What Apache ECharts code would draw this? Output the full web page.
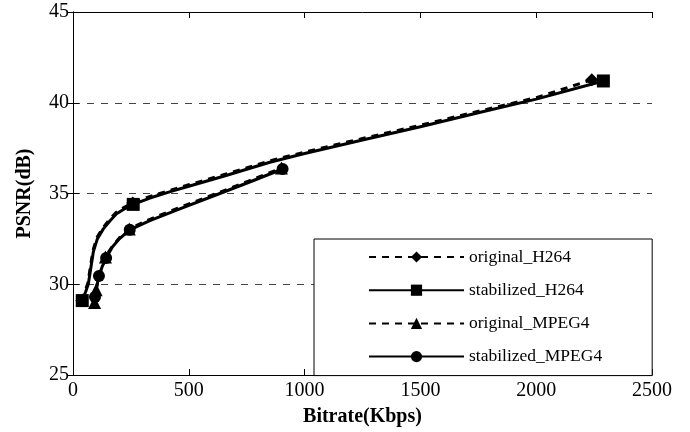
<!DOCTYPE html>
<html>
<head>
<meta charset="utf-8">
<script src="https://cdn.jsdelivr.net/npm/echarts@6/dist/echarts.min.js"></script>
<style>html,body{margin:0;padding:0;background:#fff}#c{width:690px;height:432px}</style>
</head>
<body>
<div id="c"></div>
<script>
// Curve samples: [bitrate kbps, PSNR dB]
const origH264 = [[38,29.1],[53,29.65],[64,30.05],[75,30.95],[86,31.85],[103,32.57],[130,33.12],[158,33.58],[186,33.95],[223,34.25],[258,34.48],[330,34.83],[420,35.18],[500,35.48],[650,36.03],[850,36.8],[1000,37.28],[1250,38.03],[1500,38.76],[1750,39.53],[2000,40.28],[2240,41.27]];
const origH264Marks = [0,10,21];
const stabH264 = [[40,29.1],[55,29.6],[66,30.0],[77,30.9],[88,31.8],[105,32.5],[131,33.05],[160,33.5],[188,33.88],[225,34.17],[260,34.4],[332,34.75],[420,35.1],[500,35.4],[650,35.95],[850,36.72],[1000,37.2],[1250,37.95],[1500,38.68],[1750,39.45],[2000,40.2],[2290,41.2]];
const stabH264Marks = [0,10,21];
const origMPEG4 = [[93,29.0],[100,29.7],[108,30.2],[118,30.6],[140,31.5],[170,32.1],[200,32.55],[243,33.05],[332,33.58],[450,34.18],[620,35.0],[760,35.7],[900,36.4]];
const origMPEG4Marks = [0,1,4,7,12];
const stabMPEG4 = [[95,29.3],[103,29.9],[112,30.45],[127,31.0],[143,31.45],[170,32.05],[200,32.5],[245,33.0],[332,33.5],[450,34.1],[620,34.93],[760,35.62],[905,36.35]];
const stabMPEG4Marks = [0,2,4,7,12];

const seriesNames = ['original_H264','stabilized_H264','original_MPEG4','stabilized_MPEG4'];
const xTicks = [0,500,1000,1500,2000,2500];
const yTicks = [25,30,35,40,45];

const font = 'Liberation Serif, Times New Roman, serif';

function mk(name, pts, marks, symbol, size, dashed) {
  return {
    name: name,
    type: 'line',
    smooth: false,
    symbol: symbol,
    symbolSize: size,
    showAllSymbol: true,
    data: pts.map((p, i) => marks.indexOf(i) >= 0 ? {value: p} : {value: p, symbol: 'none'}),
    lineStyle: {color: '#000', width: 3, type: dashed ? [7, 6] : 'solid', join: 'round'},
    itemStyle: {color: '#000', borderWidth: 0},
    emphasis: {disabled: true},
    z: dashed ? 3 : 2
  };
}

const chart = echarts.init(document.getElementById('c'));
chart.setOption({
  animation: false,
  backgroundColor: '#fff',
  grid: {left: 73, right: 38, top: 12, bottom: 55},
  xAxis: [{
    type: 'value', min: xTicks[0], max: xTicks[xTicks.length-1], interval: 500,
    name: 'Bitrate(Kbps)', nameLocation: 'middle', nameGap: 32,
    nameTextStyle: {fontFamily: font, fontSize: 20, fontWeight: 'bold', color: '#000'},
    axisLine: {show: true, lineStyle: {color: '#000', width: 1}},
    axisTick: {show: true, inside: true, length: 6, lineStyle: {color: '#000'}},
    axisLabel: {fontFamily: font, fontSize: 20, color: '#000', margin: 6, formatter: v => String(v)},
    splitLine: {show: false}
  }, {
    type: 'value', position: 'top', min: xTicks[0], max: xTicks[xTicks.length-1], interval: 500,
    axisLine: {show: true, lineStyle: {color: '#000', width: 1}},
    axisTick: {show: true, inside: true, length: 6, lineStyle: {color: '#000'}},
    axisLabel: {show: false}, splitLine: {show: false}
  }],
  yAxis: [{
    type: 'value', min: yTicks[0], max: yTicks[yTicks.length-1], interval: 5,
    name: 'PSNR(dB)', nameLocation: 'middle', nameGap: 38, nameRotate: 90,
    nameTextStyle: {fontFamily: font, fontSize: 20, fontWeight: 'bold', color: '#000'},
    axisLine: {show: true, lineStyle: {color: '#000', width: 1}},
    axisTick: {show: true, inside: true, length: 6, lineStyle: {color: '#000'}},
    axisLabel: {fontFamily: font, fontSize: 20, color: '#000', margin: 4, formatter: v => String(v)},
    splitLine: {show: true, lineStyle: {color: '#444', width: 1, type: [7, 7]}}
  }, {
    type: 'value', position: 'right', min: yTicks[0], max: yTicks[yTicks.length-1], interval: 5,
    axisLine: {show: true, lineStyle: {color: '#000', width: 1}},
    axisTick: {show: true, inside: true, length: 6, lineStyle: {color: '#000'}},
    axisLabel: {show: false}, splitLine: {show: false}
  }],
  legend: {
    orient: 'vertical', left: 314, top: 239,
    data: seriesNames,
    itemWidth: 95, itemHeight: 14, itemGap: 15.2,
    padding: [9, 50, 10, 54],
    borderColor: '#000', borderWidth: 1, backgroundColor: '#fff',
    textStyle: {fontFamily: font, fontSize: 17.5, color: '#000'},
    selectedMode: false
  },
  series: [
    mk(seriesNames[0], origH264, origH264Marks, 'diamond', 13, true),
    mk(seriesNames[1], stabH264, stabH264Marks, 'rect', 13, false),
    mk(seriesNames[2], origMPEG4, origMPEG4Marks, 'triangle', 13, true),
    mk(seriesNames[3], stabMPEG4, stabMPEG4Marks, 'circle', 12, false)
  ]
});
</script>
</body>
</html>
